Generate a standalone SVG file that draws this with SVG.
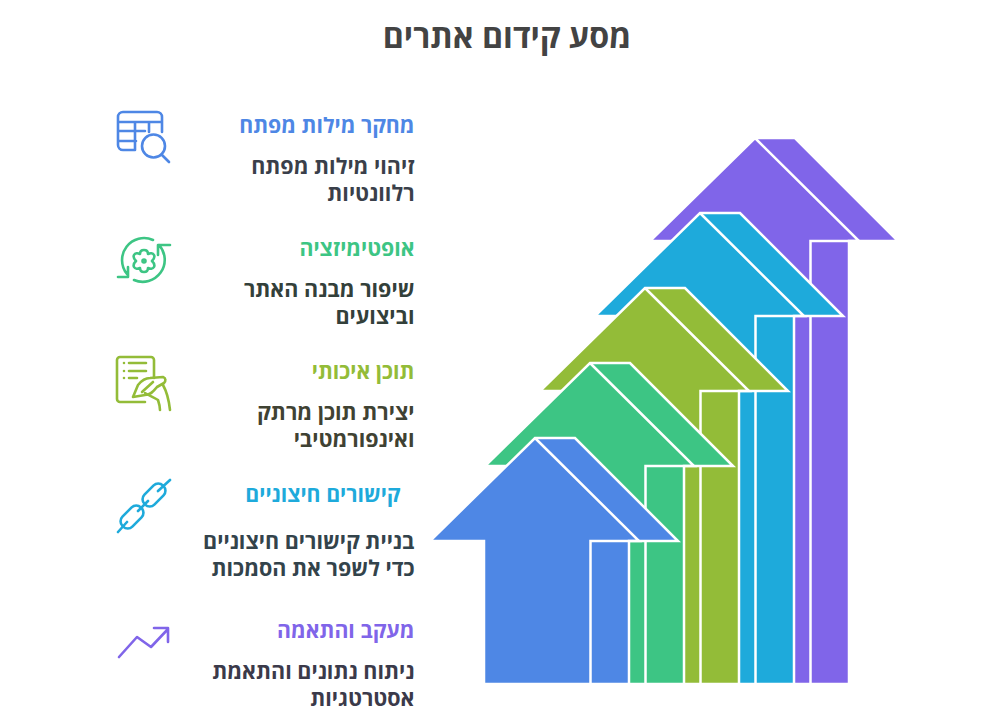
<svg xmlns="http://www.w3.org/2000/svg" width="1000" height="724" viewBox="0 0 1000 724">
<style>
text{font-family:"Open Sans","Liberation Sans",sans-serif;font-weight:700;text-anchor:end}
.t{font-size:32.200px;fill:#434343;text-anchor:middle}
.h{font-size:21.300px}
.b{font-size:21.500px}
.a{stroke:#fff;stroke-width:2.5;stroke-linejoin:miter}
.i{fill:none;stroke-width:2.6;stroke-linecap:round;stroke-linejoin:round}
</style>
<rect width="1000" height="724" fill="#fff"/>
<text class="t" x="507" y="47.500">מסע קידום אתרים</text>
<g id="arrows">
<g id="arrow-5" transform="translate(653 138)" fill="#8065E9"><path class="a" d="M-3 103 L102 0 L142 0 L245 103 L196 103 L196 546 L51 546 L51 103 Z"/><path class="a" fill="none" d="M102 0 L206 103 L157.500 103 L157.500 546"/></g>
<g id="arrow-4" transform="translate(598 213)" fill="#1EAADB"><path class="a" d="M-3 103 L102 0 L142 0 L245 103 L196 103 L196 471 L51 471 L51 103 Z"/><path class="a" fill="none" d="M102 0 L206 103 L157.500 103 L157.500 471"/></g>
<g id="arrow-3" transform="translate(543 288)" fill="#93BC38"><path class="a" d="M-3 103 L102 0 L142 0 L245 103 L196 103 L196 396 L51 396 L51 103 Z"/><path class="a" fill="none" d="M102 0 L206 103 L157.500 103 L157.500 396"/></g>
<g id="arrow-2" transform="translate(488 363)" fill="#3DC584"><path class="a" d="M-3 103 L102 0 L142 0 L245 103 L196 103 L196 321 L51 321 L51 103 Z"/><path class="a" fill="none" d="M102 0 L206 103 L157.500 103 L157.500 321"/></g>
<g id="arrow-1" transform="translate(433 438)" fill="#4E87E5"><path class="a" d="M-3 103 L102 0 L142 0 L245 103 L196 103 L196 246 L51 246 L51 103 Z"/><path class="a" fill="none" d="M102 0 L206 103 L157.500 103 L157.500 246"/></g>
</g>
<g id="node-1">
<g class="i" stroke="#4E87E5">
<path d="M135 150H123a5 5 0 0 1-5-5V117a5 5 0 0 1 5-5H157a5 5 0 0 1 5 5V132M118 122H162M118 131H145M118 141H136M135 122V150M149 122V132"/>
<circle cx="153.500" cy="146" r="11.500"/><path d="M161.500 154.500L169 162"/>
</g>
<text class="h" x="414.500" y="133" fill="#4E87E5">מחקר מילות מפתח</text>
<text class="b" x="414.500" y="174" fill="#3A3F4A">זיהוי מילות מפתח</text>
<text class="b" x="414.500" y="201" fill="#3A3F4A">רלוונטיות</text>
</g>
<g id="node-2">
<g class="i" stroke="#3DC584">
<path d="M153 240A22 22 0 0 0 127 274M118 277H128V267M159 245A22 22 0 0 1 134 280M170 245H158V255"/>
<path d="M144 250c3 0 4 2 4 4c2-1 5-1 6 1s0 4-2 6c2 2 3 4 2 6s-4 2-6 1c0 2-1 4-4 4s-4-2-4-4c-2 1-5 1-6-1s0-4 2-6c-2-2-3-4-2-6s4-2 6-1c0-2 1-4 4-4z"/>
<circle cx="144" cy="261" r="1.500"/>
</g>
<text class="h" x="414.500" y="256" fill="#3DC584">אופטימיזציה</text>
<text class="b" x="414.500" y="297" fill="#33403A">שיפור מבנה האתר</text>
<text class="b" x="414.500" y="324" fill="#33403A">וביצועים</text>
</g>
<g id="node-3">
<g class="i" stroke="#93BC38">
<path d="M145 402H120a3 3 0 0 1-3-3V360a3 3 0 0 1 3-3H151a3 3 0 0 1 3 3V378"/>
<path d="M124 363V363M124 371V371M124 378V378M129 363H146M129 371H146M129 378H137"/>
<path d="M133 397L138 385C142 380 146 378 150 378L163 377C166 378 166 381 164 383L157 387C153 392 150 395 145 395ZM142 392L153 382"/>
<path d="M145 393C150 396 155 398 158 400C159 403 160 407 160 410M163 385C167 392 169 401 170 410"/>
</g>
<text class="h" x="414.500" y="379" fill="#93BC38">תוכן איכותי</text>
<text class="b" x="414.500" y="420" fill="#3F4233">יצירת תוכן מרתק</text>
<text class="b" x="414.500" y="447" fill="#3F4233">ואינפורמטיבי</text>
</g>
<g id="node-4">
<g class="i" stroke="#1EAADB">
<rect x="-13" y="-7" width="26" height="14" rx="6.500" transform="translate(154 495) rotate(-45)"/>
<rect x="-13" y="-7" width="26" height="14" rx="6.500" transform="translate(132 517) rotate(-45)"/>
<path d="M170 480L158 491M148 501L138 511M127 522L118 532"/>
</g>
<text class="h" x="400.500" y="502" fill="#1EAADB">קישורים חיצוניים</text>
<text class="b" x="414.500" y="549" fill="#33434B">בניית קישורים חיצוניים</text>
<text class="b" x="414.500" y="576" fill="#33434B">כדי לשפר את הסמכות</text>
</g>
<g id="node-5">
<g class="i" stroke="#8065E9">
<path d="M119 657L137 637L151 647L168 629M154 628H168V642"/>
</g>
<text class="h" x="414.500" y="638" fill="#8065E9">מעקב והתאמה</text>
<text class="b" x="414.500" y="679" fill="#3B3A4A">ניתוח נתונים והתאמת</text>
<text class="b" x="414.500" y="706" fill="#3B3A4A">אסטרטגיות</text>
</g>
</svg>
